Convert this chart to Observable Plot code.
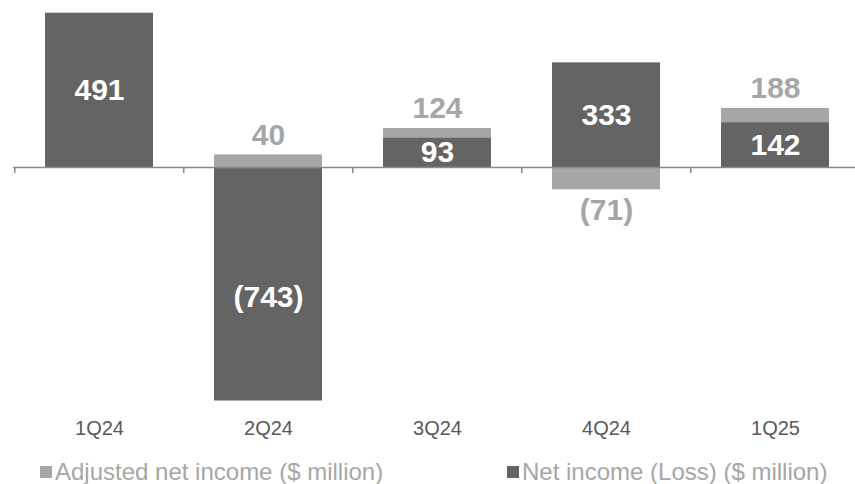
<!DOCTYPE html>
<html>
<head>
<meta charset="utf-8">
<script src="https://cdn.jsdelivr.net/npm/d3@7"></script>
<script src="https://cdn.jsdelivr.net/npm/@observablehq/plot@0.6"></script>
<style>
  html, body { margin: 0; padding: 0; background: #fff; }
  #wrap { width: 855px; font-family: "Liberation Sans", Arial, sans-serif; }
  #legend { position: relative; width: 855px; height: 34px; }
  .item { position: absolute; top: 5px; height: 34px; display: flex; align-items: center; font-size: 24px; color: #a6a6a6; white-space: nowrap; }
  .sw { width: 12px; height: 12px; margin-right: 3px; }
</style>
</head>
<body>
<div id="wrap">
  <div id="chart"></div>
  <div id="legend"></div>
</div>
<script>
// ---- data ----
const quarters = ["1Q24", "2Q24", "3Q24", "4Q24", "1Q25"];
const netIncome = [491, -743, 93, 333, 142];
const adjustedNetIncome = [null, 40, 124, -71, 188];
const seriesNames = ["Adjusted net income ($ million)", "Net income (Loss) ($ million)"];

// ---- style ----
const DARK = "#646464";
const LIGHT = "#a6a6a6";
const AXIS = "#8a8a8a";
const FONT = "'Liberation Sans', Arial, sans-serif";

const rows = quarters.map((q, i) => ({q, net: netIncome[i], adj: adjustedNetIncome[i]}));
const adjRows = rows.filter(d => d.adj != null);
const fmt = v => v < 0 ? `(${Math.abs(v)})` : `${v}`;

const W = 855, H = 450;
const mTop = 12.7, mBottom = H - 400.5;
const xRange = [13, 860.5];
const step = (xRange[1] - xRange[0]) / quarters.length;
const yDomain = [d3.min(netIncome), d3.max(netIncome)];
const unitsPerPx = (yDomain[1] - yDomain[0]) / (H - mBottom - mTop);
const tickLen = 6 * unitsPerPx;

const chart = Plot.plot({
  width: W,
  height: H,
  marginTop: mTop,
  marginBottom: mBottom,
  marginLeft: 13,
  marginRight: 0,
  style: {fontFamily: FONT, background: "#fff", overflow: "visible"},
  x: {domain: quarters, range: xRange, paddingInner: 0.363, paddingOuter: 0.1815},
  y: {domain: yDomain, axis: null},
  marks: [
    Plot.barY(adjRows, {x: "q", y: "adj", fill: LIGHT}),
    Plot.barY(rows, {x: "q", y: "net", fill: DARK}),
    Plot.ruleY([0], {stroke: AXIS, strokeWidth: 1.6}),
    Plot.ruleX(quarters, {x: d => d, y1: 0, y2: -tickLen, dx: -step / 2, stroke: AXIS, strokeWidth: 1.6}),
    Plot.text(rows.filter(d => d.net >= 0), {x: "q", y: d => d.net / 2, text: d => fmt(d.net), fill: "#fff", fontWeight: "bold", fontSize: 30}),
    Plot.text(rows.filter(d => d.net < 0), {x: "q", y: d => d.net / 2, text: d => fmt(d.net), dy: 13, fill: "#fff", fontWeight: "bold", fontSize: 30}),
    Plot.text(adjRows.filter(d => d.adj >= 0), {x: "q", y: "adj", text: d => fmt(d.adj), dy: -20, fill: LIGHT, fontWeight: "bold", fontSize: 30}),
    Plot.text(adjRows.filter(d => d.adj < 0), {x: "q", y: "adj", text: d => fmt(d.adj), dy: 21, fill: LIGHT, fontWeight: "bold", fontSize: 30}),
    Plot.axisX({tickSize: 0, tickPadding: 19.5, fontSize: 20, color: "#595959", label: null})
  ]
});
document.getElementById("chart").appendChild(chart);

const legend = document.getElementById("legend");
[[seriesNames[0], LIGHT, 40], [seriesNames[1], DARK, 507]].forEach(([name, color, left]) => {
  const it = document.createElement("div");
  it.className = "item";
  it.style.left = left + "px";
  const sw = document.createElement("span");
  sw.className = "sw";
  sw.style.background = color;
  it.appendChild(sw);
  it.appendChild(document.createTextNode(name));
  legend.appendChild(it);
});
</script>
</body>
</html>
